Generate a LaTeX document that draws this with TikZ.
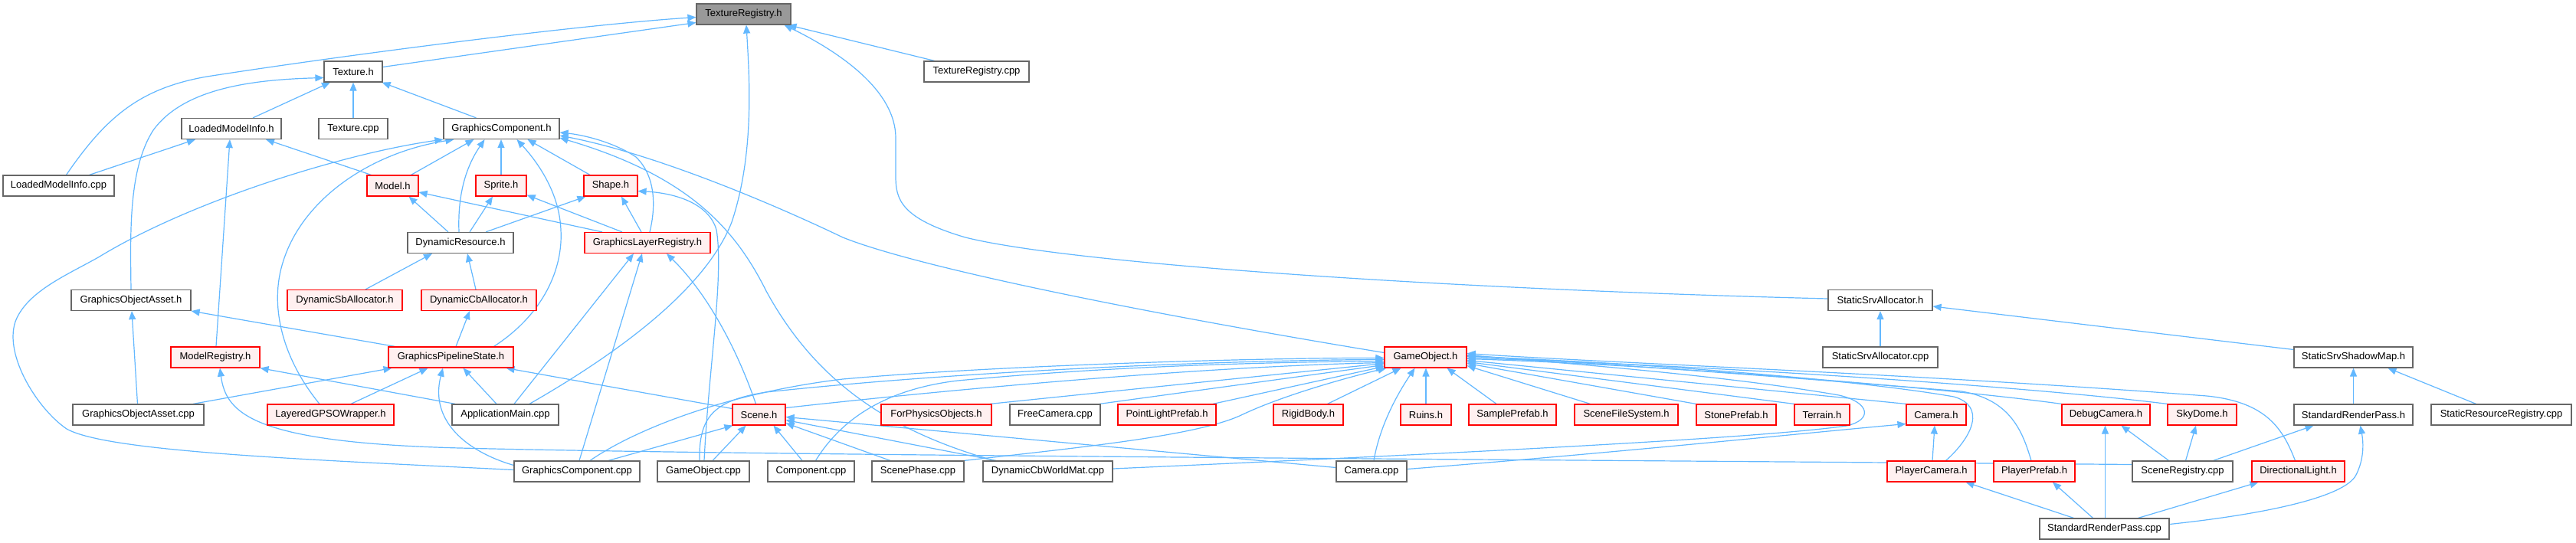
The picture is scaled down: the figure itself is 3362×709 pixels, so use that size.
\documentclass[tikz,border=0pt]{standalone}
\usepackage{fontspec}
\setmainfont{Liberation Sans}
\usetikzlibrary{arrows.meta}
\pgfdeclarelayer{bg}
\pgfdeclarelayer{paper}
\pgfsetlayers{paper,bg,main}
\definecolor{edgec}{HTML}{63B8FF}
\definecolor{redb}{HTML}{FF0000}
\definecolor{redf}{HTML}{FFF0F0}
\definecolor{grayb}{HTML}{666666}
\definecolor{rootf}{HTML}{999999}
\tikzset{
 nb/.style={draw=grayb, fill=white, line width=1.2pt, minimum height=27pt, inner sep=0pt, font=\fontsize{13}{15}\selectfont},
 nr/.style={nb, draw=redb, fill=redf},
 nroot/.style={nb, fill=rootf},
 e/.style={draw=edgec, line width=1.2pt, -{Triangle[length=11pt,width=9pt]}},
}
\begin{document}
\begin{tikzpicture}[x=1pt,y=-1pt]
\begin{pgfonlayer}{paper}
\fill[white] (0,0) rectangle (3362,709);
\end{pgfonlayer}
\useasboundingbox (0,0) rectangle (3362,709);
% row 0
\node[nroot,minimum width=123pt] (TRH) at (970.5,18.5) {TextureRegistry.h};
% row 1
\node[nb,minimum width=76pt] (TexH) at (461,93.5) {Texture.h};
\node[nb,minimum width=137pt] (TRcpp) at (1274.5,93.5) {TextureRegistry.cpp};
% row 2
\node[nb,minimum width=130pt] (LMIh) at (302,168) {LoadedModelInfo.h};
\node[nb,minimum width=90pt] (Texcpp) at (461,168) {Texture.cpp};
\node[nb,minimum width=151pt] (GCh) at (654.5,168) {GraphicsComponent.h};
% row 3
\node[nb,minimum width=145pt] (LMIcpp) at (76.5,242.5) {LoadedModelInfo.cpp};
\node[nr,minimum width=67pt] (Modelh) at (512.5,242.5) {Model.h};
\node[nr,minimum width=66pt] (Spriteh) at (654,242.5) {Sprite.h};
\node[nr,minimum width=70pt] (Shapeh) at (797,242.5) {Shape.h};
% row 4
\node[nb,minimum width=138pt] (DRh) at (601,317) {DynamicResource.h};
\node[nr,minimum width=164pt] (GLRh) at (845,317) {GraphicsLayerRegistry.h};
% row 5
\node[nb,minimum width=156pt] (GOAh) at (171,392) {GraphicsObjectAsset.h};
\node[nr,minimum width=150pt] (DSbA) at (450,392) {DynamicSbAllocator.h};
\node[nr,minimum width=150pt] (DCbA) at (625,392) {DynamicCbAllocator.h};
\node[nb,minimum width=136pt] (SSAh) at (2454,392) {StaticSrvAllocator.h};
% row 6
\node[nr,minimum width=116pt] (MRh) at (281,466.5) {ModelRegistry.h};
\node[nr,minimum width=163pt] (GPSOh) at (588.5,466.5) {GraphicsPipelineState.h};
\node[nr,minimum width=107pt] (GOh) at (1860.5,466.5) {GameObject.h};
\node[nb,minimum width=150pt] (SSAcpp) at (2454,466.5) {StaticSrvAllocator.cpp};
\node[nb,minimum width=155pt] (SSSMh) at (3071.5,466.5) {StaticSrvShadowMap.h};
% row 7
\node[nb,minimum width=171pt] (GOAcpp) at (180.5,541.5) {GraphicsObjectAsset.cpp};
\node[nr,minimum width=165pt] (LGPSO) at (431.5,541.5) {LayeredGPSOWrapper.h};
\node[nb,minimum width=139pt] (AMcpp) at (659.5,541.5) {ApplicationMain.cpp};
\node[nr,minimum width=69pt] (Sceneh) at (990.5,541.5) {Scene.h};
\node[nr,minimum width=144pt] (FPO) at (1222,541.5) {ForPhysicsObjects.h};
\node[nb,minimum width=118pt] (FCcpp) at (1377,541.5) {FreeCamera.cpp};
\node[nr,minimum width=128pt] (PLP) at (1523,541.5) {PointLightPrefab.h};
\node[nr,minimum width=91pt] (RB) at (1707.5,541.5) {RigidBody.h};
\node[nr,minimum width=66pt] (Ruins) at (1861,541.5) {Ruins.h};
\node[nr,minimum width=114pt] (SP) at (1974,541.5) {SamplePrefab.h};
\node[nr,minimum width=135pt] (SFS) at (2122.5,541.5) {SceneFileSystem.h};
\node[nr,minimum width=104pt] (StP) at (2266,541.5) {StonePrefab.h};
\node[nr,minimum width=72pt] (Ter) at (2378,541.5) {Terrain.h};
\node[nr,minimum width=78pt] (Camh) at (2527,541.5) {Camera.h};
\node[nr,minimum width=115pt] (DCh) at (2748.5,541.5) {DebugCamera.h};
\node[nr,minimum width=90pt] (SDh) at (2874,541.5) {SkyDome.h};
\node[nb,minimum width=155pt] (SRPh) at (3071.5,541.5) {StandardRenderPass.h};
\node[nb,minimum width=183pt] (SRRcpp) at (3264.5,541.5) {StaticResourceRegistry.cpp};
% row 8
\node[nb,minimum width=164pt] (GCcpp) at (753,615.5) {GraphicsComponent.cpp};
\node[nb,minimum width=120pt] (GOcpp) at (918,615.5) {GameObject.cpp};
\node[nb,minimum width=113pt] (Compcpp) at (1058.5,615.5) {Component.cpp};
\node[nb,minimum width=120pt] (SPhcpp) at (1198,615.5) {ScenePhase.cpp};
\node[nb,minimum width=169pt] (DCWM) at (1367.5,615.5) {DynamicCbWorldMat.cpp};
\node[nb,minimum width=92pt] (Camcpp) at (1790,615.5) {Camera.cpp};
\node[nr,minimum width=115pt] (PCh) at (2520.5,615.5) {PlayerCamera.h};
\node[nr,minimum width=106pt] (PPh) at (2655,615.5) {PlayerPrefab.h};
\node[nb,minimum width=131pt] (SRcpp) at (2848.5,615.5) {SceneRegistry.cpp};
\node[nr,minimum width=121pt] (DLh) at (2999.5,615.5) {DirectionalLight.h};
% row 9
\node[nb,minimum width=169pt] (SRPcpp) at (2746.5,690.5) {StandardRenderPass.cpp};

\begin{pgfonlayer}{bg}
% to TextureRegistry.h
\draw[e] ([yshift=6pt]TexH.east) -- ([yshift=-11pt]TRH.west);
\draw[e] ([xshift=10pt]LMIcpp.north) .. controls (140,150) and (185,115) .. (270,100) .. controls (450,72) and (750,33) .. ([yshift=-4pt]TRH.west);
\draw[e] ([xshift=-55pt]TRcpp.north) -- ([xshift=58pt]TRH.south);
\draw[e] ([xshift=31.5pt]AMcpp.north) .. controls (800,465) and (920,380) .. (955,290) .. controls (985,200) and (978,100) .. ([xshift=3.5pt]TRH.south);
\draw[e] ([yshift=2pt]SSAh.west) .. controls (1900,378) and (1400,345) .. (1260,310) .. controls (1175,285) and (1169,260) .. (1169,230) -- (1169,180) .. controls (1169,120) and (1100,70) .. ([xshift=53pt]TRH.south);
% to Texture.h
\draw[e] ([xshift=28pt]LMIh.north) -- ([xshift=-30pt]TexH.south);
\draw[e] (Texcpp.north) -- (TexH.south);
\draw[e] ([xshift=-33pt]GCh.north) -- ([xshift=-1pt]TexH.south east);
\draw[e] (GOAh.north) .. controls (170,300) and (168,220) .. (200,170) .. controls (240,115) and (330,104) .. ([yshift=-8pt]TexH.west);
% to LoadedModelInfo.h
\draw[e] ([xshift=40pt]LMIcpp.north) -- ([xshift=-47pt]LMIh.south);
\draw[e] ([xshift=-28pt]Modelh.north) -- ([xshift=45pt]LMIh.south);
\draw[e] ([xshift=1pt]MRh.north) -- ([xshift=-2pt]LMIh.south);
% to GraphicsComponent.h
\draw[e] ([xshift=24pt]Modelh.north) -- ([xshift=-36pt]GCh.south);
\draw[e] (Spriteh.north) -- ([xshift=-0.5pt]GCh.south);
\draw[e] ([xshift=-27pt]Shapeh.north) -- ([xshift=34pt]GCh.south);
\draw[e] ([xshift=-2pt]DRh.north) .. controls (597,250) and (610,215) .. ([xshift=-22pt]GCh.south);
\draw[e] ([xshift=3pt]GLRh.north) .. controls (856,270) and (856,230) .. (830,205) .. controls (800,185) and (760,176) .. ([yshift=-5pt]GCh.east);
\draw[e] ([xshift=56pt]GPSOh.north) .. controls (710,410) and (735,350) .. (732,300) .. controls (730,250) and (700,210) .. ([xshift=20pt]GCh.south);
\draw[e] ([xshift=-14.5pt]LGPSO.north) .. controls (370,470) and (350,400) .. (370,340) .. controls (395,262) and (480,200) .. ([xshift=-62pt]GCh.south);
\draw[e] ([yshift=2pt]GCcpp.west) .. controls (400,600) and (140,590) .. (87,560) .. controls (50,535) and (5,465) .. (20,420) .. controls (35,380) and (90,358) .. (130,335) .. controls (250,262) and (450,200) .. ([xshift=-76pt]GCh.south);
\draw[e] ([yshift=6pt]GOh.west) .. controls (1500,410) and (1200,350) .. (1100,310) .. controls (1000,262) and (850,200) .. ([yshift=-9pt]GCh.east);
\draw[e] ([xshift=-70pt]DCWM.north) .. controls (1150,560) and (1060,490) .. (1000,380) .. controls (960,300) and (900,230) .. ([yshift=-12pt]GCh.east);
% Model / Sprite / Shape
\draw[e] ([xshift=-59pt]GLRh.north) -- ([yshift=-8.5pt]Modelh.east);
\draw[e] ([xshift=-33pt]GLRh.north) -- ([yshift=2pt]Spriteh.south east);
\draw[e] ([xshift=-8pt]GLRh.north) -- ([xshift=14pt]Shapeh.south);
\draw[e] ([xshift=-16pt]DRh.north) -- ([xshift=21pt]Modelh.south);
\draw[e] ([xshift=12pt]DRh.north) -- ([xshift=-11pt]Spriteh.south);
\draw[e] ([xshift=33pt]DRh.north) -- ([xshift=3pt]Shapeh.south west);
\draw[e] ([xshift=1pt]GOcpp.north) .. controls (925,480) and (945,360) .. (935,300) .. controls (925,265) and (880,252) .. ([yshift=-7pt]Shapeh.east);
% DynamicResource.h
\draw[e] ([xshift=27pt]DSbA.north) -- ([xshift=-37pt]DRh.south);
\draw[e] ([xshift=-4pt]DCbA.north) -- ([xshift=9pt]DRh.south);
% GraphicsPipelineState.h
\draw[e] ([xshift=6.5pt]GPSOh.north) -- ([xshift=-12pt]DCbA.south);
\draw[e] ([xshift=-73pt]GPSOh.north) -- (GOAh.south east);
\draw[e] ([xshift=-1pt]GOAcpp.north) -- ([xshift=1pt]GOAh.south);
\draw[e] ([xshift=71.5pt]GOAcpp.north) -- ([xshift=-77pt]GPSOh.south);
\draw[e] ([xshift=26.5pt]LGPSO.north) -- ([xshift=-30pt]GPSOh.south);
\draw[e] ([xshift=-11.5pt]AMcpp.north) -- ([xshift=16pt]GPSOh.south);
\draw[e] ([yshift=8pt]GCcpp.west) .. controls (610,590) and (560,550) .. ([xshift=-10.5pt]GPSOh.south);
\draw[e] ([yshift=8pt]Sceneh.west) -- ([xshift=72pt]GPSOh.south);
% ModelRegistry.h
\draw[e] ([xshift=-65.5pt]AMcpp.north) -- (MRh.south east);
\draw[e] ([yshift=9pt]SRcpp.west) .. controls (2000,600) and (1000,595) .. (600,585) .. controls (330,578) and (295,540) .. ([xshift=6pt]MRh.south);
% GraphicsLayerRegistry.h
\draw[e] ([xshift=11.5pt]AMcpp.north) -- ([xshift=-18pt]GLRh.south);
\draw[e] ([xshift=3pt]GCcpp.north) -- ([xshift=-7pt]GLRh.south);
\draw[e] ([xshift=-4pt]Sceneh.north) .. controls (960,450) and (920,380) .. ([xshift=25pt]GLRh.south);
% Scene.h
\draw[e] ([xshift=12pt]GOcpp.north) -- ([xshift=-17pt]Sceneh.south);
\draw[e] ([xshift=-11.5pt]Compcpp.north) -- ([xshift=19pt]Sceneh.south);
\draw[e] ([xshift=-36pt]SPhcpp.north) -- ([yshift=-11pt]Sceneh.east);
\draw[e] ([xshift=-67.5pt]DCWM.north) -- ([yshift=-7pt]Sceneh.east);
\draw[e] ([xshift=41pt]GCcpp.north) -- ([xshift=1pt]Sceneh.south west);
\draw[e] ([yshift=5pt]Camcpp.west) -- ([yshift=-3pt]Sceneh.east);
% GameObject.h from left
\draw[e] ([xshift=17pt]GCcpp.north) .. controls (830,560) and (950,513) .. (1100,495) .. controls (1300,477) and (1650,467) .. ([yshift=-1pt]GOh.west);
\draw[e] ([xshift=-5pt]GOcpp.north) .. controls (912,545) and (930,523) .. (1000,512) .. controls (1300,480) and (1650,470) .. ([yshift=-3pt]GOh.west);
\draw[e] ([xshift=6pt]Compcpp.north) .. controls (1090,560) and (1140,510) .. (1250,497) .. controls (1450,478) and (1650,473) .. ([yshift=-5pt]GOh.west);
\draw[e] ([yshift=9pt]Sceneh.east) .. controls (1300,502) and (1600,478) .. ([yshift=-7pt]GOh.west);
\draw[e] ([xshift=70pt]FPO.north) -- ([yshift=-8pt]GOh.west);
\draw[e] ([xshift=58pt]FCcpp.north) -- ([yshift=-10pt]GOh.west);
\draw[e] ([xshift=60pt]PLP.north) -- ([yshift=-12pt]GOh.west);
\draw[e] ([xshift=25pt]RB.north) -- ([xshift=-32pt]GOh.south);
\draw[e] (SPhcpp.north east) .. controls (1400,585) and (1560,570) .. (1620,542) .. controls (1670,518) and (1750,495) .. ([xshift=3pt]GOh.south west);
\draw[e] ([xshift=3pt]Camcpp.north) .. controls (1800,560) and (1820,520) .. ([xshift=-14pt]GOh.south);
\draw[e] (Ruins.north) -- ([xshift=0.5pt]GOh.south);
% GameObject.h from right
\draw[e] ([xshift=-21pt]SP.north) -- ([xshift=28pt]GOh.south);
\draw[e] ([xshift=-47pt]SFS.north) -- ([yshift=-11pt]GOh.east);
\draw[e] (StP.north west) -- ([yshift=-8pt]GOh.east);
\draw[e] (Ter.north west) -- ([yshift=-6pt]GOh.east);
\draw[e] (Camh.north west) -- ([yshift=-4pt]GOh.east);
\draw[e] (DCh.north west) .. controls (2550,508) and (2200,478) .. ([yshift=-2pt]GOh.east);
\draw[e] (SDh.north west) .. controls (2650,505) and (2250,478) .. ([yshift=-1pt]GOh.east);
\draw[e] ([xshift=19pt]PCh.north) .. controls (2575,570) and (2592,530) .. (2550,518) .. controls (2400,492) and (2100,472) .. ([yshift=1pt]GOh.east);
\draw[e] ([xshift=-4pt]PPh.north) .. controls (2640,565) and (2625,522) .. (2560,511) .. controls (2300,490) and (2100,475) .. ([yshift=2pt]GOh.east);
\draw[e] ([xshift=-4pt]DLh.north) .. controls (2980,562) and (2960,525) .. (2880,517) .. controls (2500,488) and (2100,474) .. ([yshift=5pt]GOh.east);
\draw[e] ([yshift=3.5pt]DCWM.east) .. controls (1900,592) and (2300,572) .. (2410,556) .. controls (2445,548) and (2440,525) .. (2400,516) .. controls (2250,490) and (2050,475) .. ([yshift=3pt]GOh.east);
% Camera.h
\draw[e] ([yshift=3pt]Camcpp.east) .. controls (2100,592) and (2350,566) .. ([yshift=-12pt]Camh.west);
\draw[e] ([xshift=1.5pt]PCh.north) -- ([xshift=-2pt]Camh.south);
% StandardRenderPass.cpp
\draw[e] ([xshift=-40pt]SRPcpp.north) -- ([xshift=45pt]PCh.south);
\draw[e] ([xshift=-15pt]SRPcpp.north) -- ([xshift=24pt]PPh.south);
\draw[e] ([xshift=1pt]SRPcpp.north) -- ([xshift=-1pt]DCh.south);
\draw[e] ([xshift=44pt]SRPcpp.north) -- ([xshift=-52pt]DLh.south);
\draw[e] ([yshift=6pt]SRPcpp.east) .. controls (2950,672) and (3060,650) .. (3075,620) .. controls (3085,600) and (3085,580) .. ([xshift=9pt]SRPh.south);
% SceneRegistry.cpp
\draw[e] ([xshift=-18pt]SRcpp.north) -- ([xshift=20pt]DCh.south);
\draw[e] ([xshift=4pt]SRcpp.north) -- ([xshift=-8pt]SDh.south);
\draw[e] ([xshift=40pt]SRcpp.north) -- ([xshift=-52pt]SRPh.south);
% shadow map / allocator
\draw[e] (SRPh.north) -- (SSSMh.south);
\draw[e] ([xshift=-33pt]SRRcpp.north) -- ([xshift=45pt]SSSMh.south);
\draw[e] ([yshift=10pt]SSSMh.west) -- ([yshift=-8pt]SSAh.east);
\draw[e] (SSAcpp.north) -- (SSAh.south);
\end{pgfonlayer}
\end{tikzpicture}
\end{document}
